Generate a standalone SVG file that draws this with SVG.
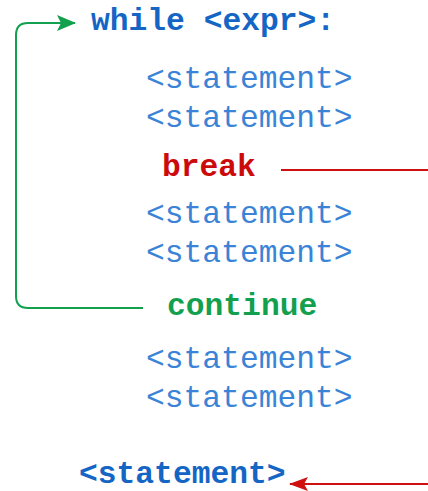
<svg xmlns="http://www.w3.org/2000/svg" width="428" height="491" viewBox="0 0 428 491">
<style>
text{font-family:"Liberation Mono","Courier New",monospace;font-size:31.3px}
.st{fill:#3a83d6}
.kw{fill:#1565c5;font-weight:bold}
.br{fill:#cc0a0a;font-weight:bold}
.co{fill:#12a04f;font-weight:bold}
.gl{stroke:#12a04f;stroke-width:2;fill:none}
.rl{stroke:#d01010;stroke-width:1.8;fill:none}
</style>
<defs>
<marker id="ga" markerWidth="20" markerHeight="16" refX="18" refY="8" orient="auto" markerUnits="userSpaceOnUse"><path d="M0,0 L19,8 L0,16 L4,8 Z" fill="#12a04f"/></marker>
<marker id="ra" markerWidth="20" markerHeight="16" refX="18" refY="8" orient="auto" markerUnits="userSpaceOnUse"><path d="M0,1 L19,8 L0,15 L4,8 Z" fill="#d01010"/></marker>
</defs>
<g id="connectors">
<path class="gl" d="M143,308 H28 Q16,308 16,296 V35 Q16,23 28,23 H75" marker-end="url(#ga)"/>
<path class="rl" d="M281,170 H428"/>
<path class="rl" d="M428,484 H290" marker-end="url(#ra)"/>
</g>
<g id="while"><text class="kw" x="91" y="30">while &lt;expr&gt;:</text></g>
<g id="s1"><text class="st" x="146" y="88">&lt;statement&gt;</text></g>
<g id="s2"><text class="st" x="146" y="127">&lt;statement&gt;</text></g>
<g id="break"><text class="br" x="162" y="176">break</text></g>
<g id="s3"><text class="st" x="146" y="223">&lt;statement&gt;</text></g>
<g id="s4"><text class="st" x="146" y="262">&lt;statement&gt;</text></g>
<g id="continue"><text class="co" x="167" y="315">continue</text></g>
<g id="s5"><text class="st" x="146" y="368">&lt;statement&gt;</text></g>
<g id="s6"><text class="st" x="146" y="407">&lt;statement&gt;</text></g>
<g id="after"><text class="kw" x="79" y="483">&lt;statement&gt;</text></g>
</svg>
